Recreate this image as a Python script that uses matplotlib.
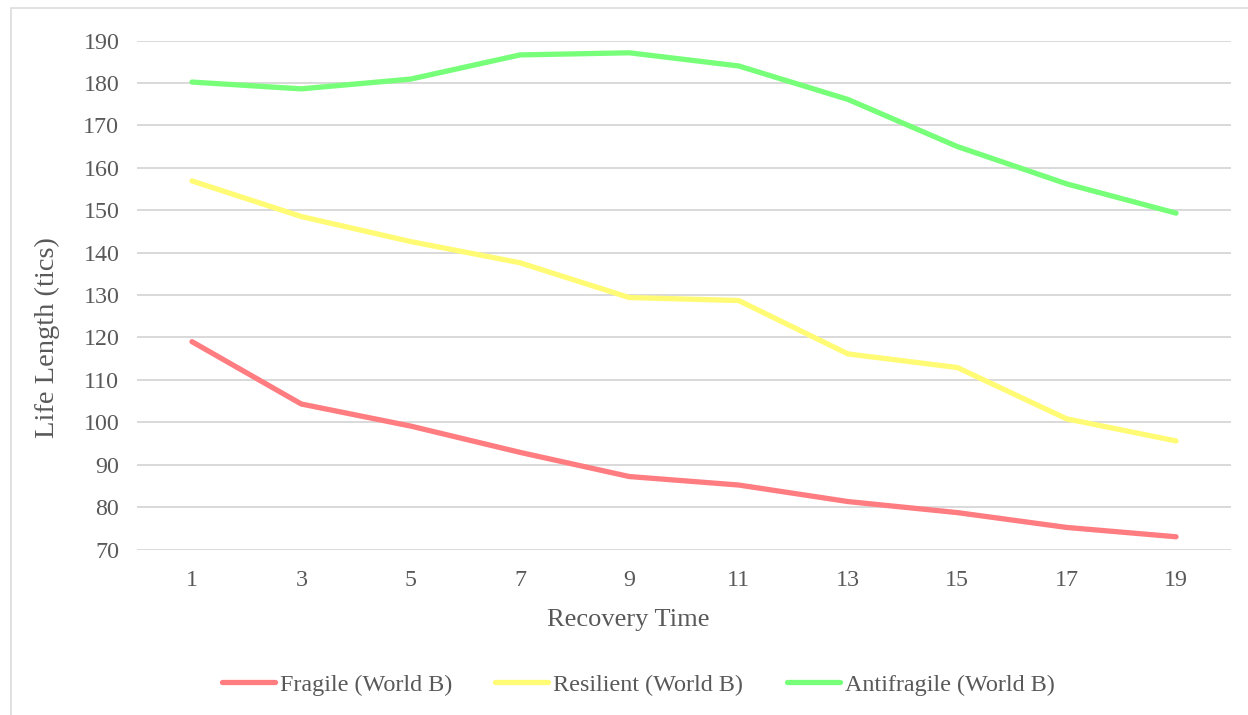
import matplotlib
matplotlib.use("Agg")
import matplotlib.pyplot as plt
from matplotlib.patches import Rectangle

# Recovery time categories and mean life length per agent type
recovery_time = [1, 3, 5, 7, 9, 11, 13, 15, 17, 19]
fragile = [119.0, 104.3, 99.1, 92.9, 87.2, 85.2, 81.3, 78.7, 75.2, 73.0]
resilient = [156.9, 148.5, 142.6, 137.6, 129.4, 128.7, 116.1, 112.9, 100.8, 95.6]
antifragile = [180.2, 178.6, 180.9, 186.6, 187.1, 184.0, 176.1, 165.0, 156.2, 149.3]
series_names = ["Fragile (World B)", "Resilient (World B)", "Antifragile (World B)"]
series_colors = ["#FF7C80", "#FFFB75", "#77FF7A"]
y_ticks = list(range(70, 191, 10))

plt.rcParams["font.family"] = ["Liberation Serif", "DejaVu Serif"]
text_color = "#595959"
grid_color = "#D9D9D9"

W, H = 1248, 715
fig = plt.figure(figsize=(W / 100, H / 100), dpi=100)

# chart-area border
fig.patches.append(Rectangle((11 / W, -0.05), 1.2, 1 - 8 / H + 0.05,
                             transform=fig.transFigure, fill=False,
                             edgecolor=grid_color, linewidth=1.1))

left, right = 137.3 / W, 1230.7 / W
bottom, top = 1 - 549.5 / H, 1 - 40.5 / H
ax = fig.add_axes([left, bottom, right - left, top - bottom])

positions = list(range(len(recovery_time)))
for vals, name, col in zip([fragile, resilient, antifragile], series_names, series_colors):
    ax.plot(positions, vals, color=col, linewidth=3.8, label=name,
            solid_capstyle="round", solid_joinstyle="round", zorder=3)

ax.set_xlim(-0.5, len(recovery_time) - 0.5)
ax.set_ylim(70, 190)
ax.set_yticks(y_ticks)
ax.set_xticks(positions)
ax.set_xticklabels([str(v) for v in recovery_time])
ax.yaxis.grid(True, color=grid_color, linewidth=1.4)
ax.set_axisbelow(True)
for s in ax.spines.values():
    s.set_visible(False)
ax.tick_params(axis="both", length=0, labelsize=17.3, colors=text_color)
ax.tick_params(axis="y", pad=13)
ax.tick_params(axis="x", pad=14.5)

fig.text(628 / W, 1 - 620 / H, "Recovery Time", ha="center", va="center",
         fontsize=19, color=text_color)
fig.text(47 / W, 1 - 338 / H, "Life Length (tics)", ha="center", va="center",
         rotation=90, fontsize=20.5, color=text_color)

leg = fig.legend(loc="center", bbox_to_anchor=(638 / W, 1 - 685 / H), ncol=3,
                 frameon=False, fontsize=17.4, handlelength=2.2, handletextpad=0.2,
                 columnspacing=1.8, labelcolor=text_color)
for line in leg.get_lines():
    line.set_solid_capstyle("round")

fig.savefig("out.png", dpi=100, facecolor="white")
